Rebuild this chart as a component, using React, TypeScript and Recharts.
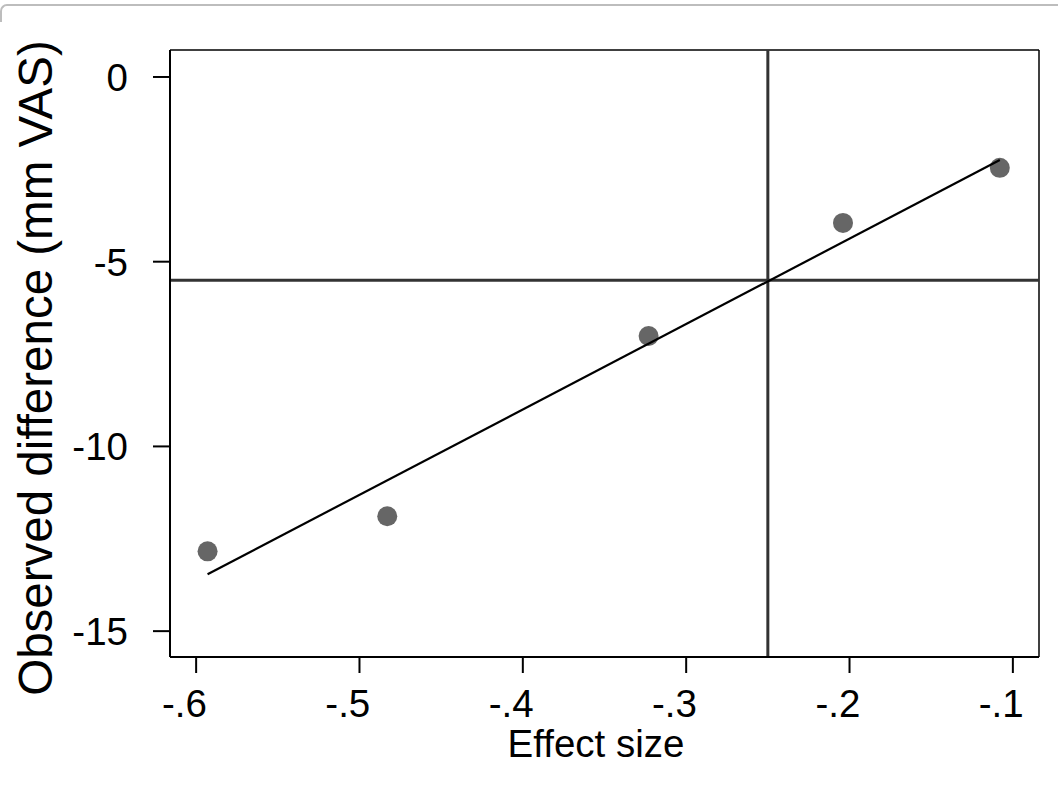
import React from "react";
import { ReferenceLine, Scatter, ScatterChart, XAxis, YAxis } from "recharts";

const effectSize = [-0.593, -0.483, -0.323, -0.204, -0.108];
const observedDiff = [-12.84, -11.89, -7.01, -3.95, -2.46];
const fitX = [-0.593, -0.108];
const fitY = [-13.46, -2.25];
const xTicks = [-0.6, -0.5, -0.4, -0.3, -0.2, -0.1];
const yTicks = [0, -5, -10, -15];
const refX = -0.25;
const refY = -5.5;

const FONT = '"Liberation Sans", Arial, sans-serif';
const X_DOMAIN: [number, number] = [-0.616, -0.084];
const Y_DOMAIN: [number, number] = [-15.7, 0.73];

const points = effectSize.map((x, i) => ({ x, y: observedDiff[i] }));
const fit = fitX.map((x, i) => ({ x, y: fitY[i] }));

function fmtX(v: number) {
  return v.toFixed(1).replace("0.", ".");
}

// digit sits centred under the tick, like the original
function XTick(props: any) {
  const { x, y, payload } = props;
  return (
    <text x={x + 10.8} y={y} dy={42} textAnchor="end" fontSize={38.5} fontFamily={FONT} fill="#000">
      {fmtX(payload.value)}
    </text>
  );
}

function YTick(props: any) {
  const { x, y, payload } = props;
  return (
    <text x={x - 23} y={y} dy="0.36em" textAnchor="end" fontSize={38.5} fontFamily={FONT} fill="#000">
      {String(payload.value)}
    </text>
  );
}

function Dot(props: any) {
  return <circle cx={props.cx} cy={props.cy} r={10} fill="#666666" />;
}

export default function App() {
  return (
    <div style={{ position: "absolute", left: 0, top: 0, width: 1059, height: 796, background: "#fff" }}>
      <div
        style={{
          position: "absolute",
          left: 0,
          top: 4,
          width: 1058,
          height: 18,
          borderTop: "2px solid #bdbdbd",
          borderLeft: "2px solid #bdbdbd",
          borderTopLeftRadius: 7,
          boxSizing: "border-box",
        }}
      />
      <div style={{ position: "absolute", left: 0, top: 0 }}>
        <ScatterChart width={1059} height={796} margin={{ top: 50, right: 20, bottom: 0, left: 0 }}>
          <XAxis
            type="number"
            dataKey="x"
            domain={X_DOMAIN}
            ticks={xTicks}
            allowDataOverflow
            height={139}
            tickSize={16}
            axisLine={{ stroke: "#000", strokeWidth: 2 }}
            tickLine={{ stroke: "#000", strokeWidth: 2 }}
            tick={<XTick />}
            label={{
              content: () => (
                <text x={596} y={757} textAnchor="middle" fontSize={38.5} fontFamily={FONT} fill="#000">
                  Effect size
                </text>
              ),
            }}
          />
          <YAxis
            type="number"
            dataKey="y"
            domain={Y_DOMAIN}
            ticks={yTicks}
            allowDataOverflow
            width={170}
            tickSize={17}
            axisLine={{ stroke: "#000", strokeWidth: 2 }}
            tickLine={{ stroke: "#000", strokeWidth: 2 }}
            tick={<YTick />}
            label={{
              content: () => (
                <text
                  x={52}
                  y={368}
                  transform="rotate(-90, 52, 368)"
                  textAnchor="middle"
                  fontSize={47.5}
                  fontFamily={FONT}
                  fill="#000"
                >
                  Observed difference (mm VAS)
                </text>
              ),
            }}
          />
          <ReferenceLine y={Y_DOMAIN[1]} stroke="#000" strokeWidth={1.5} />
          <ReferenceLine x={X_DOMAIN[1]} stroke="#000" strokeWidth={1.5} />
          <ReferenceLine x={refX} stroke="#333" strokeWidth={3} />
          <ReferenceLine y={refY} stroke="#333" strokeWidth={3} />
          <Scatter data={points} shape={<Dot />} isAnimationActive={false} />
          <Scatter
            data={fit}
            line={{ stroke: "#000", strokeWidth: 2.2 }}
            shape={() => <g />}
            isAnimationActive={false}
          />
        </ScatterChart>
      </div>
    </div>
  );
}
